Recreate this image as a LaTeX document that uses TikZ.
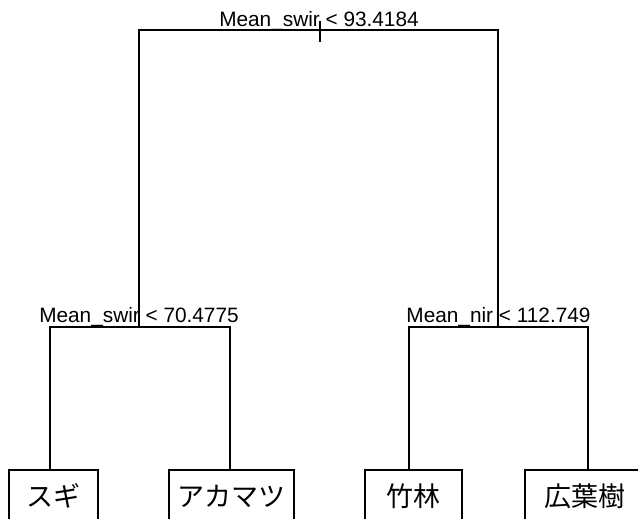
\documentclass[tikz,border=0pt]{standalone}
\usepackage{fontspec}
\setmainfont{Liberation Sans}
\newfontfamily\cjk{Noto Sans CJK JP}
\begin{document}
\begin{tikzpicture}[x=1pt,y=-1pt,
  tree/.style={line width=1.8pt,black},
  splitlabel/.style={anchor=base,inner sep=0pt,font=\fontsize{20.8}{24}\selectfont},
  leafbox/.style={draw,line width=2.7pt,inner sep=0pt,font=\cjk\fontsize{27}{30}\selectfont}]
\useasboundingbox (0,0) rectangle (638,519);
\clip (0,0) rectangle (638,519);
% split labels
\node[splitlabel] (lab0) at (319,27) {Mean\_swir < 93.4184};
\node[splitlabel] (lab1) at (139,322) {Mean\_swir < 70.4775};
\node[splitlabel] (lab2) at (498.5,322) {Mean\_nir < 112.749};
% tree coordinates
\coordinate (rtop) at (320,21);
\coordinate (rbot) at (320,42);
\coordinate (r) at (320,30);
\coordinate (a) at (139,30);
\coordinate (b) at (498,30);
\coordinate (a2) at (139,327);
\coordinate (b2) at (498,327);
\coordinate (l1) at (50,327);
\coordinate (l2) at (230,327);
\coordinate (l3) at (409,327);
\coordinate (l4) at (588,327);
% leaves
\node[leafbox,minimum width=89pt,minimum height=52pt] (sugi) at (53.5,496) {スギ};
\node[leafbox,minimum width=125pt,minimum height=52pt] (akamatsu) at (231.5,496) {アカマツ};
\node[leafbox,minimum width=97pt,minimum height=52pt] (chikurin) at (413.5,496) {竹林};
\node[leafbox,minimum width=120pt,minimum height=52pt] (koyoju) at (585,496) {広葉樹};
% connectors
\draw[tree] (rtop) -- (rbot);
\draw[tree] (a2) -- (a) -- (b) -- (b2);
\draw[tree] (l1 |- sugi.north) -- (l1) -- (l2) -- (l2 |- akamatsu.north);
\draw[tree] (l3 |- chikurin.north) -- (l3) -- (l4) -- (l4 |- koyoju.north);
\end{tikzpicture}
\end{document}
